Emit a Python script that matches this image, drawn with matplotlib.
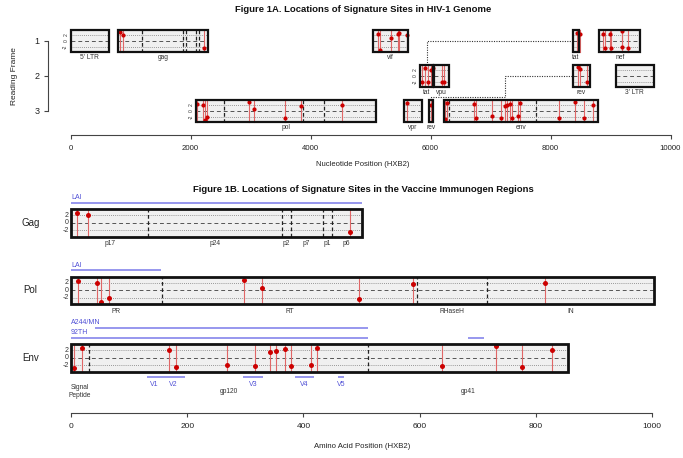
import matplotlib
matplotlib.use('Agg')
import matplotlib.pyplot as plt
from matplotlib.patches import Rectangle

plt.rcParams['font.family'] = ['Liberation Sans', 'DejaVu Sans']

# ---------------- data ----------------
nt_ticks = [0, 2000, 4000, 6000, 8000, 10000]
aa_ticks = [0, 200, 400, 600, 800, 1000]
frame_ticks = [1, 2, 3]

gene_names = ["5' LTR", "gag", "pol", "vif", "vpr", "tat", "vpu", "rev", "env", "tat", "rev", "nef", "3' LTR"]
gene_starts = [1, 790, 2085, 5041, 5559, 5831, 6062, 5970, 6225, 8379, 8379, 8815, 9086]
gene_ends = [634, 2292, 5096, 5619, 5850, 6045, 6310, 6045, 8795, 8469, 8653, 9490, 9719]
gene_frames = [1, 1, 3, 1, 3, 2, 2, 3, 3, 1, 2, 1, 2]
gene_ylabels = [True, False, True, False, False, True, False, False, False, False, False, False, False]

# signature sites in immunogen proteins (amino acid position, score)
gag_aa = [11, 30, 481]
gag_val = [2.75, 2.0, -2.3]
pol_aa = [11.5, 44, 51, 66, 297, 328, 496, 589, 815]
pol_val = [2.4, 2.05, -3.1, -2.0, 2.9, 0.6, -2.3, 1.8, 2.05]
env_aa = [6, 19, 168.5, 180.5, 268, 317, 342, 352.5, 368.5, 379, 413, 423.5, 639, 731, 776, 828]
env_val = [-2.55, 2.65, 2.25, -2.4, -1.75, -2.2, 1.6, 1.85, 2.5, -2.2, -1.75, 2.75, -2.2, 3.1, -2.4, 2.05]

# signature sites in the other genes (nucleotide position, score)
vif_nt = [5129, 5155, 5339, 5456, 5479, 5615]
vif_val = [2.2, -3.1, 0.8, 2.2, 2.7, 2.0]
vpr_nt = [5601]
vpr_val = [2.6]
tat1_nt = [5865, 5900, 5950, 6015, 6035]
tat1_val = [-2.1, 2.5, -2.1, 2.0, 2.6]
vpu_nt = [6190, 6230]
vpu_val = [-2.2, -2.2]
rev1_nt = [6013]
rev1_val = [2.0]
tat2_nt = [8439, 8495]
tat2_val = [2.7, 2.4]
rev2_nt = [8461, 8495, 8606]
rev2_val = [2.8, 2.3, -1.9]
nef_nt = [8880, 8900, 8995, 9000, 9190, 9195, 9296]
nef_val = [2.4, -2.5, 2.4, -2.3, 3.2, -2.0, -2.5]

# protein domains (amino acid boundaries)
gag_dom_names = ['p17', 'p24', 'p2', 'p7', 'p1', 'p6']
gag_dom_bounds = [0, 133, 364, 378, 433, 449, 500]
pol_dom_names = ['PR', 'RT', 'RHaseH', 'IN']
pol_dom_bounds = [0, 156, 596, 716, 1003]
env_dom_names = ['Signal\nPeptide', 'gp120', 'gp41']
env_dom_bounds = [0, 31, 512, 856]

vloop_names = ['V1', 'V2', 'V3', 'V4', 'V5']
vloop_starts = [131, 157, 296, 385, 460]
vloop_ends = [157, 196, 331, 418, 470]

# vaccine immunogen coverage
gag_vax_names = ['LAI']
gag_vax_segments = [[(0, 500)]]
pol_vax_names = ['LAI']
pol_vax_segments = [[(0, 155)]]
env_vax_names = ['A244/MN', '92TH']
env_vax_segments = [[(42, 511)], [(0, 511), (684, 711)]]

# ---------------- styles ----------------
BOX_FILL = '#f0f0f0'
RED_LINE = '#e06666'
RED_DOT = '#cc0000'
BLUE = '#7b7bea'
BLUE_TXT = '#4f4fd6'
HALF = 3.73


def draw_track(ax, x0, x1, yc, u, xs, vals, bounds=(), lw_box=1.6, ms=3.0):
    """u: data units per score unit (signed, negative for inverted axis)."""
    h = HALF * abs(u)
    ax.add_patch(Rectangle((x0, yc - h), x1 - x0, 2 * h, facecolor=BOX_FILL,
                           edgecolor='none', zorder=1, clip_on=False))
    for v, ls, c, lw in [(2, (0, (1, 1.5)), '#7a7a7a', 0.6), (-2, (0, (1, 1.5)), '#7a7a7a', 0.6),
                         (0, (0, (4, 3)), '#555555', 0.7)]:
        ax.plot([x0, x1], [yc + v * u, yc + v * u], ls=ls, color=c, lw=lw, zorder=2, clip_on=False)
    for b in bounds:
        ax.plot([b, b], [yc - h, yc + h], ls=(0, (3, 2)), color='#222222', lw=0.9, zorder=3, clip_on=False)
    for x, v in zip(xs, vals):
        ax.plot([x, x], [yc - h, yc + h], color=RED_LINE, lw=0.8, zorder=4, clip_on=False)
        ax.plot([x], [yc + v * u], 'o', ms=ms, color=RED_DOT, mec=RED_DOT, mew=0, zorder=5, clip_on=False)
    ax.add_patch(Rectangle((x0, yc - h), x1 - x0, 2 * h, facecolor='none',
                           edgecolor='#111111', lw=lw_box, zorder=6, clip_on=False))


fig = plt.figure(figsize=(6.83, 4.58), dpi=100)

# ================= Figure 1A =================
axA = fig.add_axes([70.5 / 683, 1 - 124 / 458, 600 / 683, 99 / 458])
axA.set_xlim(0, 10000)
axA.set_ylim(3.37, 0.553)
UA = -1 / 11.72   # frame units per score unit (y inverted)

def nt_of(gene_start, aa):
    return [gene_start + 3 * (a - 1) for a in aa]

gene_points = {
    0: ([], []),
    1: (nt_of(790, gag_aa), gag_val),
    2: (nt_of(2085, pol_aa), pol_val),
    3: (vif_nt, vif_val),
    4: (vpr_nt, vpr_val),
    5: (tat1_nt, tat1_val),
    6: (vpu_nt, vpu_val),
    7: (rev1_nt, rev1_val),
    8: (nt_of(6225, env_aa), env_val),
    9: (tat2_nt, tat2_val),
    10: (rev2_nt, rev2_val),
    11: (nef_nt, nef_val),
    12: ([], []),
}
gene_bounds = {
    1: nt_of(790, gag_dom_bounds[1:-1]),
    2: nt_of(2085, pol_dom_bounds[1:-1]),
    8: nt_of(6225, env_dom_bounds[1:-1]),
}

for i, name in enumerate(gene_names):
    s, e, f = gene_starts[i], gene_ends[i], gene_frames[i]
    xs, vals = gene_points[i]
    draw_track(axA, s, e, f, UA, xs, vals, bounds=gene_bounds.get(i, []), lw_box=1.6, ms=3.0)
    axA.text((s + e) / 2, f + 0.465, name, ha='center', va='center', fontsize=4.8, color='#333333')
    if gene_ylabels[i]:
        for v in [2, 0, -2]:
            axA.text(s - 80, f + v * UA, str(v), rotation=90, ha='center', va='center',
                     fontsize=3.6, color='#333333')

# connectors for spliced exons
half_f = HALF / 11.72
tat_mid = (gene_starts[5] + gene_ends[5]) / 2
axA.plot([tat_mid, tat_mid, gene_starts[9]], [2 - half_f, 1, 1], ls=(0, (1, 1.2)),
         color='#333333', lw=0.8, zorder=0)
rev_mid = (gene_starts[7] + gene_ends[7]) / 2
axA.plot([rev_mid, rev_mid, 7237, 7237, gene_starts[10]], [3 - half_f, 2.593, 2.593, 2, 2],
         ls=(0, (1, 1.2)), color='#333333', lw=0.8, zorder=0)

for sp in ['top', 'right']:
    axA.spines[sp].set_visible(False)
axA.spines['bottom'].set_position(('outward', 7.9))
axA.spines['bottom'].set_bounds(0, 10000)
axA.spines['left'].set_position(('outward', 16.2))
axA.spines['left'].set_bounds(1, 3)
for sp in ['bottom', 'left']:
    axA.spines[sp].set_color('#444444')
    axA.spines[sp].set_linewidth(0.8)
axA.set_xticks(nt_ticks)
axA.set_xticklabels([str(t) for t in nt_ticks], fontsize=5.6)
axA.set_yticks(frame_ticks)
axA.set_yticklabels([str(t) for t in frame_ticks], fontsize=6.5)
axA.tick_params(axis='both', length=3, width=0.8, color='#444444', labelcolor='#222222')
axA.tick_params(axis='x', pad=4)
axA.tick_params(axis='y', pad=3)
axA.patch.set_visible(False)

fig.text(14 / 683, 1 - 76 / 458, 'Reading Frame', rotation=90, ha='center', va='center',
         fontsize=6, color='#222222')
fig.text(363 / 683, 1 - 165 / 458, 'Nucleotide Position (HXB2)', ha='center', va='center',
         fontsize=5.5, color='#222222')
fig.text(363 / 683, 1 - 10 / 458, 'Figure 1A. Locations of Signature Sites in HIV-1 Genome',
         ha='center', va='center', fontsize=6.8, fontweight='bold', color='#111111')

# ================= Figure 1B =================
axB = fig.add_axes([71 / 683, 1 - 413 / 458, 581 / 683, 220 / 458])
axB.set_xlim(0, 1000)
axB.set_ylim(-50.67, 8.0)
axB.patch.set_visible(False)

rows = [
    ('Gag', 0.0, gag_aa, gag_val, gag_dom_names, gag_dom_bounds, gag_vax_names, gag_vax_segments, -5.4),
    ('Pol', -18.0, pol_aa, pol_val, pol_dom_names, pol_dom_bounds, pol_vax_names, pol_vax_segments, -5.6),
    ('Env', -36.0, env_aa, env_val, env_dom_names, env_dom_bounds, env_vax_names, env_vax_segments, -9.0),
]

for label, yc, xs, vals, dnames, dbounds, vnames, vsegs, dlab_y in rows:
    draw_track(axB, 0, dbounds[-1], yc, 1.0, xs, vals, bounds=dbounds[1:-1], lw_box=2.0, ms=3.6)
    axB.text(-70, yc, label, ha='center', va='center', fontsize=7, color='#222222', clip_on=False)
    for v in [2, 0, -2]:
        axB.text(-3.5, yc + v, str(v), ha='right', va='center', fontsize=5, color='#333333', clip_on=False)
    for j, n in enumerate(dnames):
        axB.text((dbounds[j] + dbounds[j + 1]) / 2, yc + dlab_y, n, ha='center', va='center',
                 fontsize=4.8, color='#333333', linespacing=1.3)
    n_v = len(vnames)
    for k, (vn, segs) in enumerate(zip(vnames, vsegs)):
        ly = yc + 5.45 + 2.67 * (n_v - 1 - k)
        for (a, b) in segs:
            axB.plot([a, b], [ly, ly], color=BLUE, lw=1.1, solid_capstyle='butt', zorder=2)
        axB.text(0, ly + 0.4, vn, ha='left', va='bottom', fontsize=5, color=BLUE_TXT)

# variable loops under Env
env_yc = -36.0
for n, a, b in zip(vloop_names, vloop_starts, vloop_ends):
    axB.plot([a, b], [env_yc - 5.2, env_yc - 5.2], color=BLUE, lw=1.1, solid_capstyle='butt')
    axB.text((a + b) / 2, env_yc - 7.1, n, ha='center', va='center', fontsize=5, color=BLUE_TXT)

for sp in ['top', 'right', 'left']:
    axB.spines[sp].set_visible(False)
axB.spines['bottom'].set_bounds(0, 1000)
axB.spines['bottom'].set_color('#444444')
axB.spines['bottom'].set_linewidth(0.8)
axB.set_xticks(aa_ticks)
axB.set_xticklabels([str(t) for t in aa_ticks], fontsize=6)
axB.set_yticks([])
axB.tick_params(axis='x', length=3, width=0.8, color='#444444', labelcolor='#222222', pad=4)

fig.text(362 / 683, 1 - 447 / 458, 'Amino Acid Position (HXB2)', ha='center', va='center',
         fontsize=5.6, color='#222222')
fig.text(363 / 683, 1 - 190 / 458, 'Figure 1B. Locations of Signature Sites in the Vaccine Immunogen Regions',
         ha='center', va='center', fontsize=6.8, fontweight='bold', color='#111111')

fig.savefig('out.png', dpi=100)
